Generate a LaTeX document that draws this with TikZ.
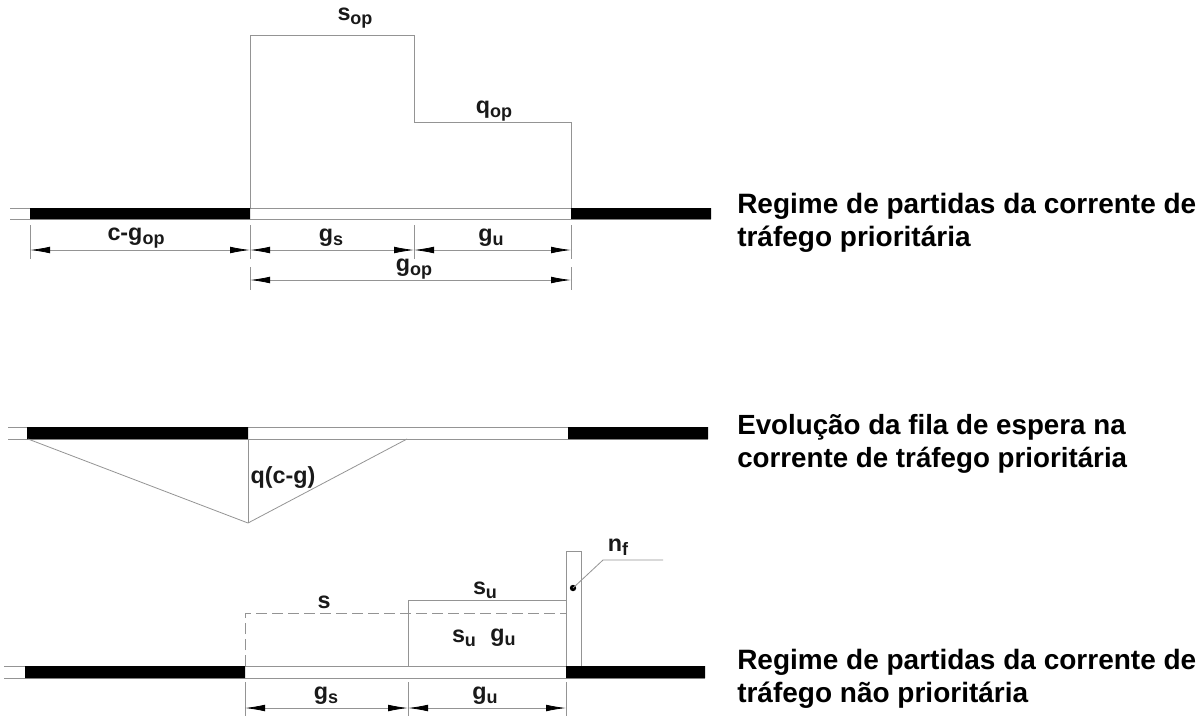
\documentclass[tikz,border=0pt]{standalone}
\usepackage{fontspec}
\setmainfont{Liberation Sans}
\usetikzlibrary{arrows.meta}
\newcommand{\lab}[2]{#1\raisebox{-0.16em}{\fontsize{13.5}{14}\selectfont #2}}
\definecolor{ln}{gray}{0.58}
\tikzset{
  thin line/.style={draw=ln,line width=0.6pt},
  dim line/.style={draw=ln,line width=0.6pt,{Latex[black,length=15pt,width=5pt]}-{Latex[black,length=15pt,width=5pt]}},
  tick line/.style={draw=ln,line width=0.5pt},
  black bar/.style={fill=black,draw=none},
  sym/.style={font=\bfseries\fontsize{17.5}{19}\selectfont,inner sep=0pt,text=black!90},
  caption/.style={font=\bfseries\fontsize{21}{24.75}\selectfont,align=left,anchor=north west,inner sep=0pt,text=black}
}
\begin{document}
\begin{tikzpicture}[x=0.75pt,y=-0.75pt]
\useasboundingbox (0,0) rectangle (1202,718);
% TOP
\draw[thin line] (10,208) -- (711,208) (10,219) -- (711,219);
\fill[black bar] (30,208) rectangle (250,219) (571,208) rectangle (711,219);
\draw[thin line] (250,208) -- (250,35) -- (414,35) -- (414,122) -- (571,122) -- (571,208);
\foreach \x in {30,250,414,571} \draw[tick line] (\x,225) -- (\x,259);
\foreach \x in {250,571} \draw[tick line] (\x,267) -- (\x,290);
\coordinate (a0) at (30,250); \coordinate (a1) at (250,250); \coordinate (a2) at (414,250); \coordinate (a3) at (571,250);
\coordinate (b0) at (250,280); \coordinate (b1) at (571,280);
\draw[dim line] (a0) -- (a1);
\draw[dim line] (a1) -- (a2);
\draw[dim line] (a2) -- (a3);
\draw[dim line] (b0) -- (b1);
\node[sym] (sop) at (355,18) {\lab{s}{op}};
\node[sym] (qop) at (494,111) {\lab{q}{op}};
\node[sym] (cg) at (136,238) {\lab{c-g}{op}};
\node[sym] (gs1) at (331,238) {\lab{g}{s}};
\node[sym] (gu1) at (491,238) {\lab{g}{u}};
\node[sym] (gop) at (414,269) {\lab{g}{op}};
\node[caption] (c1) at (737,193) {Regime de partidas da corrente de\\tráfego prioritária};
% MIDDLE
\draw[thin line] (8,427) -- (708,427) (8,439) -- (708,439);
\fill[black bar] (27,427) rectangle (248,439) (568,427) rectangle (708,439);
\draw[thin line] (28,439) -- (248,523) -- (407,439);
\draw[thin line] (248,439) -- (248,523);
\node[sym] (qcg) at (283,478) {q(c-g)};
\node[caption,font=\bfseries\fontsize{20.8}{24.75}\selectfont] (c2) at (737,414) {Evolução da fila de espera na\\corrente de tráfego prioritária};
% BOTTOM
\draw[thin line] (4,666) -- (705,666) (4,678) -- (705,678);
\fill[black bar] (25,666) rectangle (245,678) (566,666) rectangle (705,678);
\draw[thin line,dash pattern=on 8pt off 4pt] (245,666) -- (245,613) -- (566,613);
\draw[thin line] (408,666) -- (408,600) -- (566,600);
\draw[thin line] (566,666) -- (566,551) -- (581,551) -- (581,666);
\foreach \x in {245,408,566} \draw[tick line] (\x,682) -- (\x,716);
\coordinate (d0) at (245,708); \coordinate (d1) at (408,708); \coordinate (d2) at (566,708);
\draw[dim line] (d0) -- (d1);
\draw[dim line] (d1) -- (d2);
\coordinate (nfdot) at (573,588); \coordinate (nfa) at (603,560); \coordinate (nfb) at (663,560);
\fill (nfdot) circle (3.2);
\draw[thin line] (nfdot) -- (nfa) -- (nfb);
\node[sym] (nf) at (618,547) {\lab{n}{f}};
\node[sym] (s) at (324,602) {s};
\node[sym] (su1) at (485,590) {\lab{s}{u}};
\node[sym] (su2) at (464,638) {\lab{s}{u}};
\node[sym] (gu2) at (503,638) {\lab{g}{u}};
\node[sym] (gs2) at (326,696) {\lab{g}{s}};
\node[sym] (gu3) at (485,696) {\lab{g}{u}};
\node[caption] (c3) at (737,649) {Regime de partidas da corrente de\\tráfego não prioritária};
\end{tikzpicture}
\end{document}
